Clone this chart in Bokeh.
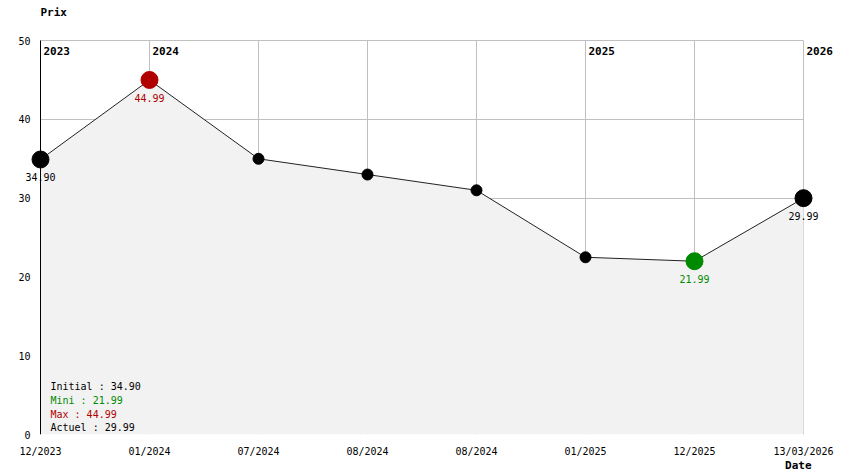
from bokeh.plotting import figure
from bokeh.models import (Range1d, FixedTicker, Label, LabelSet, ColumnDataSource, Title,
                          LinearAxis, Grid)
from bokeh.core.properties import value
from bokeh.embed import file_html
from bokeh.resources import INLINE

# ---- data ----
dates = ["12/2023", "01/2024", "07/2024", "08/2024", "08/2024", "01/2025", "12/2025", "13/03/2026"]
prices = [34.90, 44.99, 34.99, 32.99, 30.99, 22.49, 21.99, 29.99]
years = ["2023", "2024", "2025", "2026"]
year_idx = [0, 1, 5, 7]
y_ticks = [0, 10, 20, 30, 40, 50]

FONT = "DejaVu Sans Mono"
RED = "#b00000"
GREEN = "#008a00"
GRID = "#c0c0c0"

xs = list(range(len(prices)))
n = len(prices) - 1
y_top = max(y_ticks)
i_min = prices.index(min(prices))
i_max = prices.index(max(prices))
i_first, i_last = 0, n

colors, sizes = [], []
for i in xs:
    if i == i_max:
        colors.append(RED); sizes.append(17)
    elif i == i_min:
        colors.append(GREEN); sizes.append(17)
    elif i in (i_first, i_last):
        colors.append("black"); sizes.append(17)
    else:
        colors.append("black"); sizes.append(11)

src = ColumnDataSource(dict(x=xs, y=prices, c=colors, s=sizes))

# plot area: 109 px per x step, 7.88 px per y unit; padding around the data area
PX_X = 109.0
PX_Y = 7.88
pad_l, pad_r, pad_t = 18, 37, 36

p = figure(width=844, height=474, output_backend="svg", toolbar_location=None, title=None,
           x_range=Range1d(-pad_l / PX_X, n + pad_r / PX_X),
           y_range=Range1d(0, y_top + pad_t / PX_Y),
           min_border_left=22, min_border_right=4, min_border_top=4, min_border_bottom=40)
p.outline_line_color = None
p.background_fill_color = "white"
p.border_fill_color = "white"

# x axis
p.xaxis.ticker = FixedTicker(ticks=xs)
p.xaxis.major_label_overrides = {i: d for i, d in enumerate(dates)}
p.xaxis.axis_line_color = None
p.xaxis.major_tick_in = 0
p.xaxis.major_tick_out = 0
p.xaxis.minor_tick_line_color = None
p.xaxis.major_label_standoff = 11
p.xaxis.major_label_text_font = FONT
p.xaxis.major_label_text_font_size = "10px"
p.xaxis.major_label_text_color = "black"

# y axis tick labels (drawn next to the data origin)
p.yaxis.ticker = FixedTicker(ticks=y_ticks)
p.yaxis.axis_line_color = None
p.yaxis.major_tick_in = 0
p.yaxis.major_tick_out = 0
p.yaxis.minor_tick_line_color = None
p.yaxis.major_label_standoff = -(pad_l - 10)
p.yaxis.major_label_text_font = FONT
p.yaxis.major_label_text_font_size = "10px"
p.yaxis.major_label_text_color = "black"

# grid lines limited to the data area
if "cross_bounds" in Grid.properties():
    p.xgrid.grid_line_color = GRID
    p.xgrid.cross_bounds = (0, y_top)
    p.ygrid.grid_line_color = GRID
    p.ygrid.cross_bounds = (0, n)
else:
    p.xgrid.grid_line_color = None
    p.ygrid.grid_line_color = None
    p.segment(x0=xs, y0=[0] * len(xs), x1=xs, y1=[y_top] * len(xs),
              line_color=GRID, line_width=1, level="underlay")
    p.segment(x0=[0] * len(y_ticks), y0=y_ticks, x1=[n] * len(y_ticks), y1=y_ticks,
              line_color=GRID, line_width=1, level="underlay")

# y axis line at x = 0
yline = LinearAxis(fixed_location=0, ticker=FixedTicker(ticks=[]), bounds=(0, y_top),
                   axis_line_color="black", major_tick_in=0, major_tick_out=0,
                   minor_tick_line_color=None, major_label_text_font_size="0px")
p.add_layout(yline, "left")

# fill, line, markers
p.varea(x=xs, y1=[0] * len(xs), y2=prices, fill_color="#f2f2f2")
p.line(x="x", y="y", source=src, line_color="#222222", line_width=1)
p.scatter(x="x", y="y", source=src, size="s", fill_color="c", line_color="c")

# value labels for first / max / min / last
lab_idx = [i_first, i_max, i_min, i_last]
lab_src = ColumnDataSource(dict(
    x=[xs[i] for i in lab_idx],
    y=[prices[i] for i in lab_idx],
    t=[f"{prices[i]:.2f}" for i in lab_idx],
    c=[colors[i] for i in lab_idx],
))
p.add_layout(LabelSet(x="x", y="y", text="t", source=lab_src, text_color="c",
                      text_font=value(FONT), text_font_size="10px", text_align="center",
                      text_baseline="top", y_offset=-14))

# year labels
for yr, i in zip(years, year_idx):
    p.add_layout(Label(x=xs[i], y=y_top, text=yr, x_offset=3, y_offset=-10,
                       text_font=FONT, text_font_size="11px", text_font_style="bold",
                       text_baseline="alphabetic", text_color="black"))

# axis titles
p.add_layout(Label(x=0, y=y_top, text="Prix", y_offset=22, text_font=FONT,
                   text_font_size="11px", text_font_style="bold", text_color="black"))
p.add_layout(Title(text="Date", align="right", offset=29, standoff=-5, text_font=FONT,
                   text_font_size="11px", text_font_style="bold", text_color="black"), "below")

# summary
summary = [
    (f"Initial : {prices[0]:.2f}", "black"),
    (f"Mini : {prices[i_min]:.2f}", GREEN),
    (f"Max : {prices[i_max]:.2f}", RED),
    (f"Actuel : {prices[-1]:.2f}", "black"),
]
for k, (t, c) in enumerate(summary):
    p.add_layout(Label(x=0, y=0, text=t, x_offset=10, y_offset=48 - 13.8 * k,
                       text_font=FONT, text_font_size="10px", text_color=c,
                       text_baseline="alphabetic"))

open("out.html", "w").write(file_html(p, INLINE))
